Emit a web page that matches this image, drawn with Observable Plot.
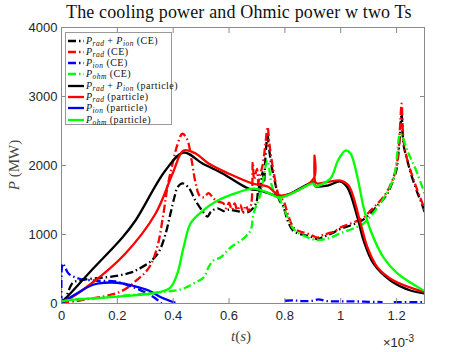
<!DOCTYPE html>
<html><head><meta charset="utf-8">
<script src="https://cdn.jsdelivr.net/npm/d3@7"></script>
<script src="https://cdn.jsdelivr.net/npm/@observablehq/plot@0.6"></script>
<style>
body{margin:0;background:#fff}
#wrap{position:relative;width:469px;height:352px;font-family:"Liberation Sans",Arial,sans-serif;color:#262626}
.ov{position:absolute;white-space:nowrap;line-height:1}
.serif{font-family:"Liberation Serif","DejaVu Serif",serif}
#legend{position:absolute;left:65px;top:32px;width:107px;height:93px;background:#fff;border:1px solid #999;box-sizing:border-box}
.row{position:absolute;left:2px;height:11px;display:flex;align-items:center;font-family:"Liberation Serif",serif;font-size:10px;letter-spacing:0.45px;color:#111;white-space:nowrap;line-height:10px}
.row svg{margin-right:2px;flex:none}
.row span{white-space:pre;line-height:10px}
.row sub{font-size:7.5px;font-style:italic;vertical-align:-1.5px;line-height:0}
</style></head>
<body><div id="wrap"></div>
<script>
// ---- data (t in units of 1e-3 s, P in MW) ----
const ceTotal = [[0,0],[0.004,30],[0.014,72],[0.04,300],[0.061,330],[0.107,360],[0.15,375],[0.204,405],[0.25,450],[0.276,500],[0.322,620],[0.35,760],[0.372,1000],[0.39,1300],[0.405,1550],[0.415,1680],[0.433,1740],[0.455,1680],[0.48,1490],[0.505,1340],[0.523,1260],[0.535,1330],[0.559,1380],[0.58,1340],[0.6,1360],[0.616,1350],[0.64,1330],[0.666,1320],[0.688,1390],[0.7,1500],[0.705,1750],[0.71,1600],[0.72,1900],[0.725,1750],[0.73,2100],[0.738,2450],[0.742,2300],[0.75,2050],[0.765,1750],[0.78,1500],[0.795,1400],[0.81,1200],[0.831,1050],[0.86,1000],[0.881,980],[0.9,960],[0.917,930],[0.935,960],[0.953,990],[0.975,1030],[0.999,1080],[1.035,1130],[1.06,1170],[1.082,1220],[1.11,1320],[1.132,1420],[1.15,1500],[1.168,1600],[1.189,1800],[1.2,1950],[1.207,2200],[1.213,2500],[1.218,2750],[1.225,2300],[1.237,2100],[1.25,1900],[1.275,1600],[1.29,1450],[1.304,1280]];
const ceRad = [[0,0],[0.014,14],[0.06,40],[0.107,72],[0.16,110],[0.204,159],[0.24,240],[0.276,362],[0.3,450],[0.322,580],[0.345,850],[0.365,1300],[0.38,1700],[0.398,2030],[0.415,2300],[0.433,2460],[0.45,2380],[0.465,2100],[0.48,1750],[0.495,1560],[0.51,1540],[0.527,1600],[0.545,1520],[0.56,1480],[0.58,1450],[0.59,1380],[0.6,1460],[0.61,1360],[0.62,1450],[0.63,1350],[0.64,1430],[0.65,1330],[0.66,1420],[0.67,1340],[0.68,1450],[0.685,2050],[0.69,1800],[0.7,1950],[0.705,1750],[0.71,1850],[0.72,2000],[0.73,2300],[0.738,2560],[0.745,2300],[0.76,1900],[0.78,1550],[0.795,1490],[0.81,1300],[0.831,1100],[0.85,1050],[0.881,1014],[0.9,980],[0.917,956],[0.935,990],[0.953,1014],[0.975,1040],[0.999,1101],[1.035,1159],[1.06,1200],[1.082,1246],[1.11,1360],[1.132,1449],[1.15,1530],[1.168,1637],[1.189,1826],[1.2,2000],[1.207,2217],[1.213,2600],[1.218,2898],[1.225,2362],[1.237,2100],[1.25,1927],[1.275,1637],[1.29,1480],[1.304,1304]];
const ceIon = [[0,0],[0.004,580],[0.01,550],[0.025,435],[0.061,362],[0.122,333],[0.193,319],[0.251,246],[0.301,159],[0.337,72],[0.358,0],[0.5,NaN],[0.8,40],[0.83,45],[0.86,35],[0.9,40],[0.92,60],[0.95,35],[1.0,30],[1.05,30],[1.1,25],[1.15,20],[1.17,NaN],[1.19,20],[1.25,20],[1.3,20]];
const ceOhm = [[0,0],[0.014,43],[0.107,72],[0.229,116],[0.347,160],[0.41,190],[0.437,217],[0.473,290],[0.509,377],[0.526,522],[0.544,623],[0.569,667],[0.605,811],[0.652,942],[0.677,1058],[0.688,1304],[0.713,1594],[0.738,2072],[0.755,1680],[0.784,1490],[0.81,1250],[0.831,1080],[0.88,960],[0.917,920],[0.96,950],[1.0,1020],[1.04,1080],[1.082,1160],[1.12,1330],[1.15,1500],[1.19,1820],[1.214,2460],[1.24,2200],[1.275,1880],[1.304,1540]];
const ptTotal = [[0,30],[0.014,72],[0.107,478],[0.218,956],[0.265,1203],[0.372,1927],[0.437,2188],[0.505,2029],[0.577,1884],[0.67,1666],[0.713,1637],[0.784,1550],[0.82,1594],[0.903,1753],[0.909,1700],[0.953,1710],[0.999,1768],[1.024,1681],[1.06,1246],[1.082,913],[1.117,580],[1.178,333],[1.25,188],[1.304,145]];
const ptRad = [[0,30],[0.014,43],[0.107,290],[0.229,725],[0.337,1304],[0.398,1884],[0.437,2217],[0.48,2174],[0.527,2029],[0.598,1884],[0.684,1739],[0.738,1695],[0.784,1565],[0.903,1811],[0.906,2144],[0.909,1760],[0.917,1739],[0.999,1782],[1.028,1710],[1.071,1159],[1.096,811],[1.132,522],[1.189,333],[1.304,159]];
const ptIon = [[0,0],[0.014,43],[0.061,159],[0.1,250],[0.133,290],[0.179,304],[0.22,290],[0.251,261],[0.312,188],[0.358,87],[0.408,10]];
const ptOhm = [[0,29],[0.014,43],[0.204,101],[0.347,160],[0.39,232],[0.415,435],[0.437,811],[0.462,1159],[0.498,1318],[0.559,1492],[0.63,1608],[0.688,1666],[0.738,1608],[0.784,1536],[0.903,1739],[0.909,1700],[0.963,1811],[0.99,2072],[1.017,2217],[1.035,2174],[1.06,1826],[1.082,1391],[1.107,1058],[1.153,667],[1.203,435],[1.297,188]];

const seriesNames = ["Prad+Pion (CE)","Prad (CE)","Pion (CE)","Pohm (CE)","Prad+Pion (particle)","Prad (particle)","Pion (particle)","Pohm (particle)"];
const seriesData = [ceTotal, ceRad, ceIon, ceOhm, ptTotal, ptRad, ptIon, ptOhm];
const seriesColors = ["#000000","#ff0000","#0000ff","#00ff00","#000000","#ff0000","#0000ff","#00ff00"];
const seriesDashed = [true,true,true,true,false,false,false,false];
const legendHtml = [
 "<i>P</i><sub>rad</sub> + <i>P</i><sub>ion</sub> (CE)",
 "<i>P</i><sub>rad</sub> (CE)",
 "<i>P</i><sub>ion</sub> (CE)",
 "<i>P</i><sub>ohm</sub> (CE)",
 "<i>P</i><sub>rad</sub> + <i>P</i><sub>ion</sub> (particle)",
 "<i>P</i><sub>rad</sub> (particle)",
 "<i>P</i><sub>ion</sub> (particle)",
 "<i>P</i><sub>ohm</sub> (particle)"];
const xTicks = [0,0.2,0.4,0.6,0.8,1.0,1.2];
const xTickLabels = ["0","0.2","0.4","0.6","0.8","1","1.2"];
const yTicks = [0,1000,2000,3000,4000];
const yTickLabels = ["0","1000","2000","3000","4000"];

const dashPattern = "8,3,1.5,3";
const lineMarks = seriesData.map((d,i) => Plot.line(d.map(([t,p]) => ({t,p})), {
  x:"t", y:"p", stroke: seriesColors[i], strokeWidth: 2.3,
  strokeDasharray: seriesDashed[i] ? dashPattern : null,
  curve: "catmull-rom",
  strokeLinejoin:"round", strokeLinecap:"butt", clip:true
}));

const chart = Plot.plot({
  width:469, height:352, marginLeft:61, marginRight:45, marginTop:27, marginBottom:49,
  style:{fontFamily:"'Liberation Sans', Arial, sans-serif", fontSize:"13px", color:"#262626", background:"white", overflow:"visible"},
  x:{domain:[0,1.3]}, y:{domain:[0,4000]},
  marks:[
    Plot.frame({stroke:"#8a8a8a", strokeWidth:1}),
    ...lineMarks,
    Plot.axisX(xTicks,{anchor:"bottom", tickSize:-5, tickPadding:12, stroke:"#8a8a8a", fill:"#262626", label:null, tickFormat:(d,i)=>xTickLabels[i]}),
    Plot.axisX(xTicks,{anchor:"top", tickSize:-5, stroke:"#8a8a8a", label:null, tickFormat:()=>""}),
    Plot.axisY(yTicks,{anchor:"left", tickSize:-5, tickPadding:9, stroke:"#8a8a8a", fill:"#262626", label:null, tickFormat:(d,i)=>yTickLabels[i]}),
    Plot.axisY(yTicks,{anchor:"right", tickSize:-5, stroke:"#8a8a8a", label:null, tickFormat:()=>""})
  ]
});
const wrap = document.getElementById("wrap");
wrap.appendChild(chart);

function ov(html, css, cls){ const e=document.createElement("div"); e.className="ov "+(cls||""); e.innerHTML=html; Object.assign(e.style, css); wrap.appendChild(e); return e; }
ov("The cooling power and Ohmic power w two Ts",{left:"66px",top:"3px",fontSize:"18px",letterSpacing:"0.15px",color:"#111"},"serif");
ov("<i>t</i>(<i>s</i>)",{left:"231px",top:"329px",fontSize:"15px",color:"#444"},"serif");
ov("<i>P</i> (MW)",{left:"14px",top:"165px",fontSize:"15px",color:"#444",transform:"translate(-50%,-50%) rotate(-90deg)"},"serif");
ov("×10<sup style='font-size:10px;vertical-align:5px'>-3</sup>",{left:"383px",top:"334px",fontSize:"13px",color:"#262626"});

const leg = document.createElement("div"); leg.id="legend"; wrap.appendChild(leg);
legendHtml.forEach((h,i)=>{
  const r=document.createElement("div"); r.className="row"; r.style.top=(2+i*11.3)+"px";
  r.innerHTML=`<svg width="16" height="6"><line x1="0" y1="3" x2="16" y2="3" stroke="${seriesColors[i]}" stroke-width="2.3" ${seriesDashed[i]?`stroke-dasharray="${dashPattern}"`:""}/></svg><span>${h}</span>`;
  leg.appendChild(r);
});
</script></body></html>
